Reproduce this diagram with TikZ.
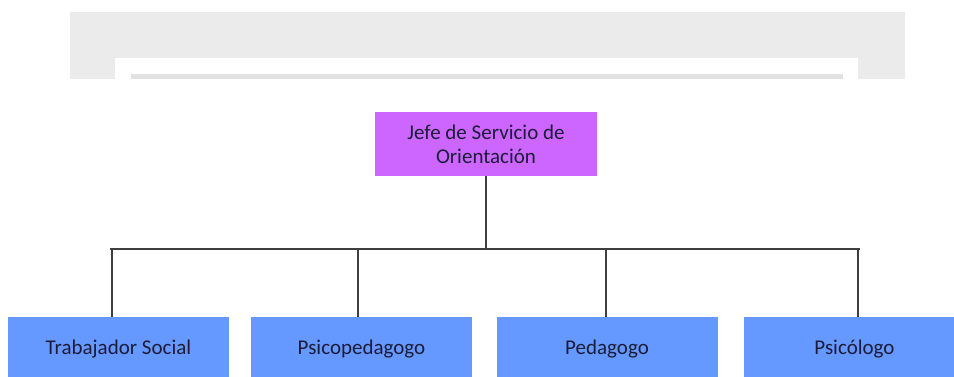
\documentclass[tikz,border=0pt]{standalone}
\usepackage{fontspec}
\setmainfont{Carlito}
\usetikzlibrary{positioning}
\definecolor{jefe}{HTML}{CC66FF}
\definecolor{puesto}{HTML}{6699FF}
\definecolor{hoja}{HTML}{EBEBEB}
\definecolor{linea}{HTML}{3F3F3F}
\definecolor{letra}{HTML}{1C1C3A}

\tikzset{
  caja/.style={minimum width=222pt, minimum height=64pt, inner sep=0pt,
    align=center, font=\fontsize{21}{24}\selectfont, text=letra},
  conector/.style={draw=linea, line width=1.3pt}
}

\begin{document}
\begin{tikzpicture}[x=1pt,y=-1pt]
		%%%%% START %%%%%
		\useasboundingbox (0,0) rectangle (954,377);
		\clip (0,0) rectangle (954,377);
		
		% trozo de la hoja
		\fill[hoja] (70,12) rectangle (905,79);
		\fill[white] (115,58) rectangle (858,79);
		\fill[hoja!92!gray] (131,74) rectangle (843,79);
		
		\node[caja, fill=jefe] (jefe) at (486,144) {Jefe de Servicio de\\Orientación};
		
		\node[caja, fill=puesto, minimum width=221pt] (trabajador) at (118.5,349) {Trabajador Social};
		\node[caja, fill=puesto, minimum width=221pt] (psicoped) at (361.5,349) {Psicopedagogo};
		\node[caja, fill=puesto, minimum width=221pt] (pedagogo) at (607,349) {Pedagogo};
		\node[caja, fill=puesto, minimum width=221pt] (psicologo) at (854.5,349) {Psicólogo};
		
		\coordinate (busizq) at (110,249);
		\coordinate (busder) at (860,249);
		
		\draw[conector] (jefe.south) -- (jefe.south |- busizq);
		\draw[conector] (busizq) -- (busder);
		\foreach \n/\x in {trabajador/112,psicoped/358,pedagogo/606,psicologo/858}
			\draw[conector] (\x,249) -- (\x,249 |- \n.north);
		
		%%%%% END %%%%%
	\end{tikzpicture}
\end{document}
